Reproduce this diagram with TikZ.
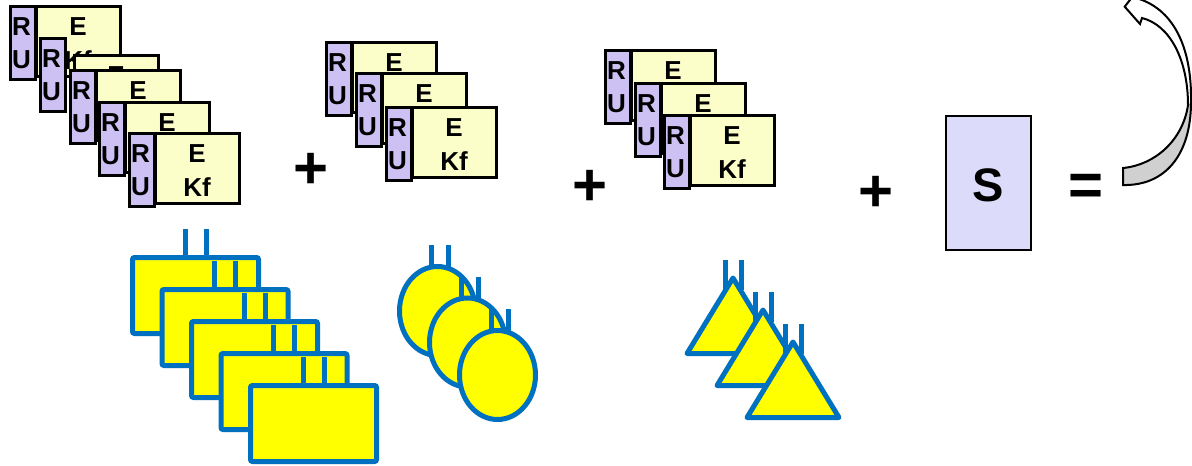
\documentclass[tikz,border=0pt]{standalone}
\usepackage{fontspec}
\setmainfont{Liberation Sans}
\definecolor{rupurple}{HTML}{CDC1F4}
\definecolor{ekyellow}{HTML}{FBFEC8}
\definecolor{sfill}{HTML}{DCDCFA}
\definecolor{shblue}{HTML}{0070C0}
\definecolor{shyellow}{HTML}{FFFF00}
\definecolor{argrey}{HTML}{D0D0D0}
\tikzset{
  cardline/.style={draw=black, line width=2.6pt, inner sep=0pt, anchor=north west},
  rubox/.style={cardline, fill=rupurple, minimum width=25pt, minimum height=73pt},
  ekbox/.style={cardline, fill=ekyellow, minimum width=84pt, minimum height=70pt},
  lbl/.style={font=\bfseries\fontsize{26}{26}\selectfont, inner sep=0pt},
  blueshape/.style={draw=shblue, line width=5pt, fill=shyellow},
  prong/.style={draw=shblue, line width=5pt},
  opsign/.style={font=\bfseries\fontsize{60}{60}\selectfont, inner sep=0pt},
  arrowline/.style={draw=black, line width=2pt, line join=miter},
}
% name, x, y, dx, dy (offset of the yellow part)
\newcommand\mycard[5]{%
  \node[rubox] (#1p) at ({#2+1.3},{#3+1.3}) {};
  \node[ekbox] (#1y) at ({#2+27+#4},{#3+1.3+#5}) {};
  \node[lbl] (#1R) at ({#2+13.5},{#3+23}) {R};
  \node[lbl] (#1U) at ({#2+13.5},{#3+56}) {U};
  \node[lbl] (#1E) at ({#2+70+#4},{#3+23+#5}) {E};
  \node[lbl] (#1K) at ({#2+70+#4},{#3+56+#5}) {Kf};
}
% name, centre x, centre y
\newcommand\myrect[3]{%
  \draw[prong] ({#2-10.5},{#3-66.5}) -- ({#2-10.5},{#3-30});
  \draw[prong] ({#2+10.5},{#3-66.5}) -- ({#2+10.5},{#3-30});
  \node[blueshape, minimum width=126pt, minimum height=76pt, rounded corners=2pt] (#1) at (#2,#3) {};
}
\newcommand\myoval[3]{%
  \draw[prong] ({#2-6},{#3-66}) -- ({#2-6},{#3-20});
  \draw[prong] ({#2+11},{#3-66}) -- ({#2+11},{#3-20});
  \draw[blueshape] (#2,#3) ellipse [x radius=38pt, y radius=44.5pt];
  \coordinate (#1) at (#2,#3);
}
% name, apex x, apex y
\newcommand\mytri[3]{%
  \draw[prong] ({#2-8},{#3-18}) -- ({#2-8},{#3+12});
  \draw[prong] ({#2+8},{#3-18}) -- ({#2+8},{#3+12});
  \draw[blueshape, line join=round] (#2,#3) -- ({#2-46},{#3+75.5}) -- ({#2+46},{#3+75.5}) -- cycle;
  \coordinate (#1) at (#2,#3);
}
\begin{document}
\begin{tikzpicture}[x=1pt, y=-1pt]
\useasboundingbox (0,0) rectangle (1192,466);
\clip (0,0) rectangle (1192,466);

% group 1 of cards
\mycard{a1}{8}{4}{0}{0}
\mycard{a2}{38}{36}{8}{17}
\mycard{a3}{68}{68}{0}{0}
\mycard{a4}{97}{100}{0}{0}
\mycard{a5}{127}{131}{0}{0}
% group 2
\mycard{b1}{324}{40}{0}{0}
\mycard{b2}{354}{71}{0}{0}
\mycard{b3}{384}{105}{0}{0}
% group 3
\mycard{c1}{603}{48}{0}{0}
\mycard{c2}{633}{81}{0}{0}
\mycard{c3}{662}{113}{0}{0}

% operators
\node[opsign] (plus1) at (311,171) {+};
\node[opsign] (plus2) at (590,188) {+};
\node[opsign] (plus3) at (876,194) {+};
\node[opsign] (eq) at (1086,190) {=};

% S box
\node[draw=black, line width=2.5pt, fill=sfill, minimum width=85pt, minimum height=134pt] (sbox) at (988.5,183) {};
\node[font=\bfseries\fontsize{47}{47}\selectfont, inner sep=0pt] (stext) at (988,185) {S};

% blue shapes
\myrect{r1}{195.5}{295.5}
\myrect{r2}{225}{327.5}
\myrect{r3}{254.5}{359.5}
\myrect{r4}{284}{391.5}
\myrect{r5}{313.5}{423.5}

\myoval{o1}{437.5}{311}
\myoval{o2}{467.5}{342.5}
\myoval{o3}{497.5}{375}

\mytri{t1}{733}{278}
\mytri{t2}{763}{310}
\mytri{t3}{793}{342}

% curved arrow
\fill[white] (1123,168) .. controls (1155,165) and (1183,140) .. (1188,105)
  .. controls (1188,60) and (1170,25) .. (1142,18) -- (1140,24) -- (1124.7,6.7)
  -- (1133,-4) -- (1136,-2) .. controls (1172,8) and (1192,45) .. (1191,102)
  .. controls (1191,155) and (1165,186) .. (1123,185) -- cycle;
\fill[argrey] (1123,168) .. controls (1155,165) and (1183,140) .. (1188,105)
  -- (1191,102) .. controls (1191,155) and (1165,186) .. (1123,185) -- cycle;
\draw[arrowline] (1123,168) .. controls (1155,165) and (1183,140) .. (1188,105)
  .. controls (1188,60) and (1170,25) .. (1142,18) -- (1140,24) -- (1124.7,6.7)
  -- (1133,-4) -- (1136,-2) .. controls (1172,8) and (1192,45) .. (1191,102)
  .. controls (1191,155) and (1165,186) .. (1123,185) -- cycle;
\end{tikzpicture}
\end{document}
